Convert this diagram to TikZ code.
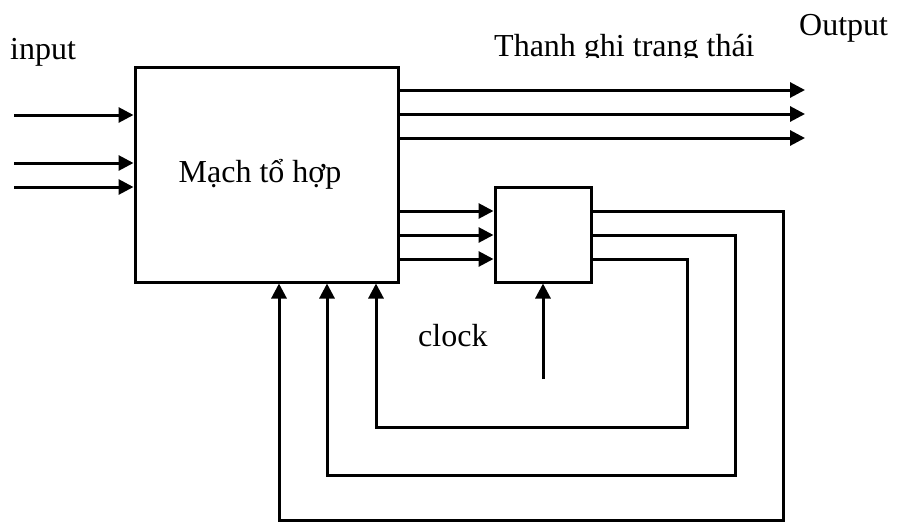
\documentclass[tikz,border=0pt]{standalone}
\usepackage{fontspec}
\setmainfont{Liberation Serif}
\usetikzlibrary{arrows.meta}
\begin{document}
\begin{tikzpicture}[x=1pt,y=-1pt,
  wire/.style={line width=3pt},
  arr/.style={wire,-{Triangle[length=15pt,width=15pt]}},
  lbl/.style={font=\fontsize{32}{36}\selectfont,inner sep=0pt},
  boxst/.style={draw,line width=3pt,inner sep=0pt}]
\useasboundingbox (0,0) rectangle (897,523);
% main block
\node[boxst,minimum width=263pt,minimum height=215pt] (comb) at (266.5,174.5) {};
\node[lbl,anchor=base] (combtxt) at (260,182) {Mạch tổ hợp};
% register
\node[boxst,minimum width=96pt,minimum height=95pt] (reg) at (543,234.5) {};
% labels
\node[lbl,anchor=base west] (inlbl) at (10,59) {input};
\node[lbl,anchor=base west] (outlbl) at (799,35) {Output};
\begin{scope}
\clip (480,25) rectangle (780,57.5);
\node[lbl,anchor=base west] (reglbl) at (494,56.5) {Thanh ghi trạng thái};
\end{scope}
\node[lbl,anchor=base west] (clklbl) at (418,346) {clock};
% inputs
\coordinate (i1) at (14,115);
\coordinate (i2) at (14,163);
\coordinate (i3) at (14,187);
\draw[arr] (i1) -- (comb.west |- i1);
\draw[arr] (i2) -- (comb.west |- i2);
\draw[arr] (i3) -- (comb.west |- i3);
% outputs
\coordinate (o1) at (805,90);
\coordinate (o2) at (805,114);
\coordinate (o3) at (805,138);
\draw[arr] (comb.east |- o1) -- (o1);
\draw[arr] (comb.east |- o2) -- (o2);
\draw[arr] (comb.east |- o3) -- (o3);
% into register
\draw[arr] (comb.east |- 0,211) -- (reg.west |- 0,211);
\draw[arr] (comb.east |- 0,235) -- (reg.west |- 0,235);
\draw[arr] (comb.east |- 0,259) -- (reg.west |- 0,259);
% clock
\coordinate (clk) at (543,379);
\draw[arr] (clk) -- (reg.south);
% feedback loops
\draw[arr] (reg.east |- 0,259) -- (687,259) -- (687,427) -- (376,427) -- (comb.south -| 376,0);
\draw[arr] (reg.east |- 0,235) -- (735,235) -- (735,475) -- (327,475) -- (comb.south -| 327,0);
\draw[arr] (reg.east |- 0,211) -- (783,211) -- (783,520) -- (279,520) -- (comb.south -| 279,0);
\end{tikzpicture}
\end{document}
